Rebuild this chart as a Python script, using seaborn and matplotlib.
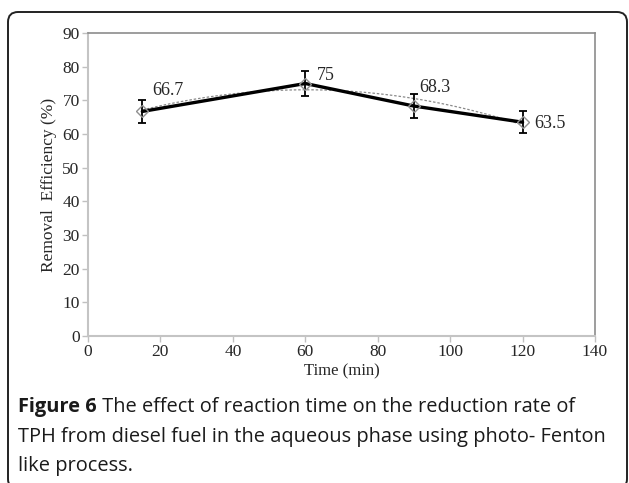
import numpy as np
import pandas as pd
import matplotlib
matplotlib.use('Agg')
import matplotlib.pyplot as plt
from matplotlib.patches import FancyBboxPatch
import seaborn as sns

# data
time_min = [15, 60, 90, 120]
removal = [66.7, 75, 68.3, 63.5]
err = [3.3, 3.6, 3.5, 3.3]
labels = ['66.7', '75', '68.3', '63.5']
label_off = [(10, 21), (12, 8), (5, 19), (12, -1)]

caption_bold = 'Figure 6'
caption_rest = ' The effect of reaction time on the reduction rate of'
caption_lines = ['TPH from diesel fuel in the aqueous phase using photo- Fenton',
                 'like process.']

df = pd.DataFrame({'time': time_min, 'removal': removal, 'err': err})

sns.set_style('white')
plt.rcParams['font.family'] = ['Liberation Serif', 'DejaVu Serif']

fig = plt.figure(figsize=(6.29, 4.83), dpi=100)
ax = fig.add_axes([88/629, 1-336/483, (595-88)/629, (336-33)/483])

# polynomial trendline (dotted grey)
sns.regplot(data=df, x='time', y='removal', order=2, ci=None, scatter=False,
            ax=ax, line_kws=dict(color='#8a8a8a', lw=0.9, ls=(0, (2, 1.5))))
# main series
sns.lineplot(data=df, x='time', y='removal', ax=ax, color='black', lw=2.4)
ax.errorbar(df['time'], df['removal'], yerr=df['err'], fmt='none',
            ecolor='black', elinewidth=1.3, capsize=3.2, capthick=1.3)
ax.plot(df['time'], df['removal'], ls='none', marker='D', ms=6.5,
        mfc='none', mec='#909090', mew=1)

for x, y, t, (dx, dy) in zip(time_min, removal, labels, label_off):
    ax.annotate(t, (x, y), xytext=(dx, dy), textcoords='offset pixels',
                ha='left', va='center', fontsize=13)

ax.set_xlim(0, 140)
ax.set_ylim(0, 90)
ax.set_xticks(range(0, 141, 20))
ax.set_yticks(range(0, 91, 10))
ax.set_xlabel('Time (min)', fontsize=12, labelpad=2)
ax.set_ylabel('Removal  Efficiency (%)', fontsize=12.5, labelpad=4)
ax.tick_params(axis='both', labelsize=12.5, length=4, width=1,
               color='#c0c0c0', direction='out', bottom=True, left=True, pad=2)
for s in ['left', 'bottom']:
    ax.spines[s].set_color('#c4c4c4')
    ax.spines[s].set_linewidth(1.5)
for s in ['top', 'right']:
    ax.spines[s].set_color('#8c8c8c')
    ax.spines[s].set_linewidth(1.2)

# caption
cap_font = ['Open Sans', 'DejaVu Sans']
cap_size = 14.4
t = fig.text(18/629, 1-407/483, caption_bold, fontsize=cap_size, fontweight='bold',
             family=cap_font, va='center', ha='left', color='#1a1a1a')
fig.canvas.draw()
bb = t.get_window_extent(fig.canvas.get_renderer())
fig.text(bb.x1/629, 1-407/483, caption_rest, fontsize=cap_size, family=cap_font,
         va='center', ha='left', color='#1a1a1a')
for i, line in enumerate(caption_lines):
    fig.text(18/629, 1-(437+29.5*i)/483, line, fontsize=cap_size, family=cap_font,
             va='center', ha='left', color='#1a1a1a')

# outer rounded frame
box = FancyBboxPatch((8/629, -6/483), 619/629, (483-12+6)/483,
                     boxstyle='round,pad=0,rounding_size=0.016',
                     transform=fig.transFigure, fill=False, ec='#222222', lw=1.4,
                     mutation_aspect=629/483)
fig.patches.append(box)

fig.savefig('out.png', dpi=100)
